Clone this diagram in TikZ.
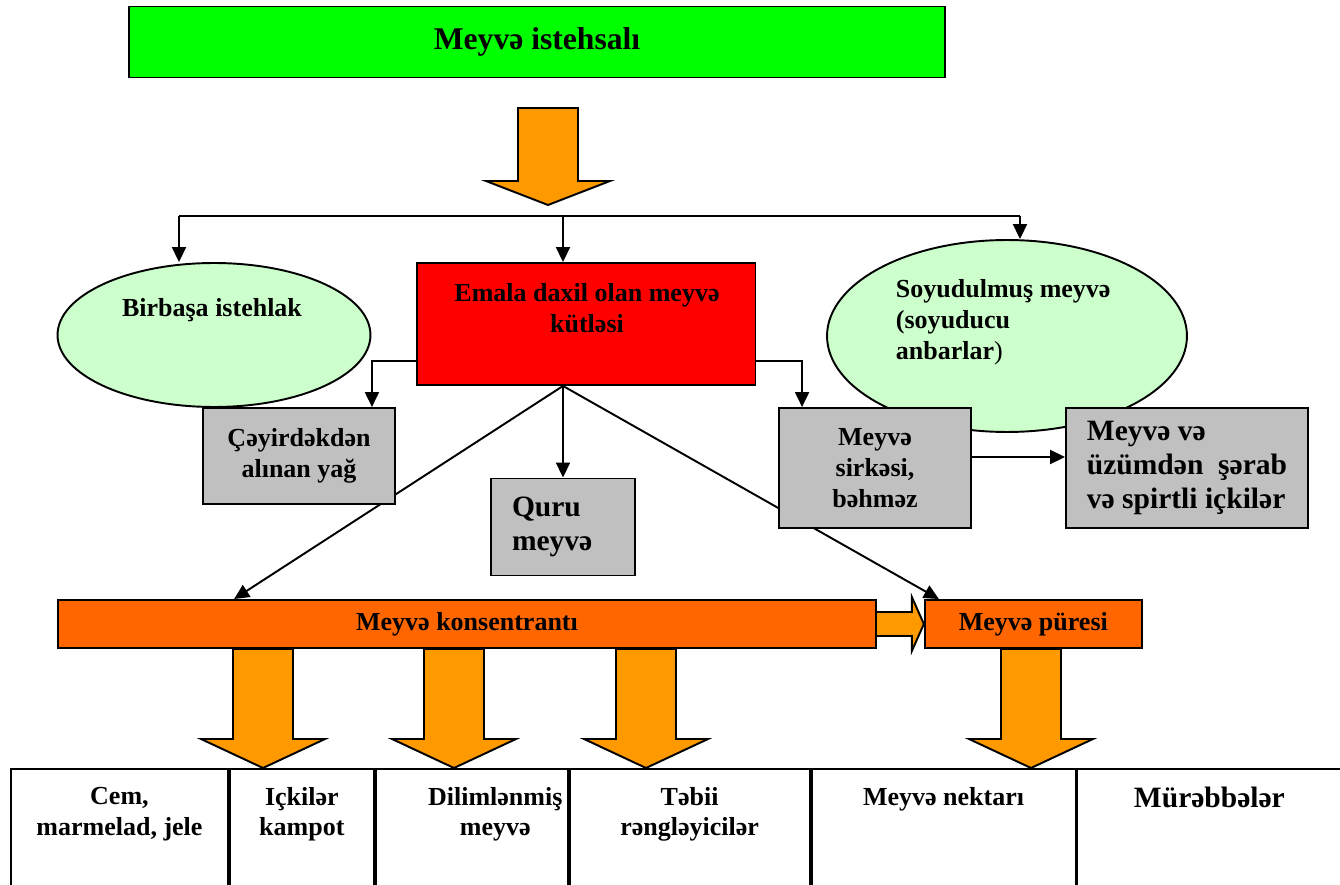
\documentclass[tikz,border=0pt]{standalone}
\usepackage{fontspec}
\setmainfont{Liberation Serif}
\usetikzlibrary{positioning, calc, shapes.geometric, arrows.meta, backgrounds}

\definecolor{titlegreen}{HTML}{00FF00}
\definecolor{palegreen}{HTML}{CCFFCC}
\definecolor{boxgray}{HTML}{C0C0C0}
\definecolor{arroworange}{HTML}{FF9900}
\definecolor{barorange}{HTML}{FF6600}
\definecolor{boxred}{HTML}{FF0000}

\newcommand{\fatarrow}[3]{%
	\draw[fatfill] ($(#1)+(-30,0)$) -- ($(#1)+(30,0)$) -- ($(#2)+(30,-#3)$) -- ($(#2)+(62,-#3)$)
		-- (#2) -- ($(#2)+(-62,-#3)$) -- ($(#2)+(-30,-#3)$) -- cycle;}

\begin{document}
\begin{tikzpicture}[x=0.02cm, y=-0.02cm, line width=1.1pt, >={Triangle[length=3mm,width=2.8mm]},
	txt/.style={font=\fontsize{14.8}{17.6}\selectfont\bfseries, align=center, inner sep=0pt},
	bigtxt/.style={font=\fontsize{16.8}{19.3}\selectfont\bfseries, inner sep=0pt},
	plainbox/.style={draw, rectangle, inner sep=0pt},
	graybox/.style={plainbox, fill=boxgray, txt},
	ovalnode/.style={draw, ellipse, fill=palegreen, inner sep=0pt},
	barbox/.style={plainbox, fill=barorange, txt, minimum height=0.96cm},
	cellbox/.style={plainbox, anchor=north west, minimum height=2.54cm},
	fatfill/.style={draw, fill=arroworange, line join=miter}]
	\useasboundingbox (0,0) rectangle (1340,885);

	\node[plainbox, fill=titlegreen, minimum width=16.32cm, minimum height=1.42cm, font=\fontsize{18}{21}\selectfont\bfseries] (g) at (537,42) {Meyvə istehsalı};

	\node[ovalnode, minimum width=6.26cm, minimum height=2.88cm] (e1) at (214,335) {};
	\node[ovalnode, minimum width=7.2cm, minimum height=3.84cm] (e2) at (1007,336) {};
	\node[txt] (e1t) at (212,310) {Birbaşa istehlak};
	\node[txt, align=left, anchor=west] (e2t) at (895,322) {Soyudulmuş meyvə\\(soyuducu\\anbarlar\textmd{)}};

	\node[plainbox, fill=boxred, minimum width=6.78cm, minimum height=2.44cm] (r) at (586,324) {};
	\node[txt] (rt) at (587,308) {Emala daxil olan meyvə\\kütləsi};

	\node[graybox, minimum width=3.84cm, minimum height=1.92cm] (c) at (299,456) {Çəyirdəkdən\\alınan yağ};
	\node[graybox, bigtxt, align=left, text width=2.04cm, inner xsep=0.42cm, minimum height=1.94cm] (q) at (563,527) {Quru\\meyvə};
	\node[graybox, minimum width=3.84cm, minimum height=2.4cm] (s) at (875,468) {Meyvə\\sirkəsi,\\bəhməz};
	\node[graybox, bigtxt, align=left, minimum width=4.84cm, minimum height=2.4cm] (w) at (1187,468) {Meyvə və\\üzümdən\ \ şərab\\və spirtli içkilər};

	\node[barbox, minimum width=16.36cm] (k) at (467,624) {Meyvə konsentrantı};
	\node[barbox, minimum width=4.34cm, right=0.94cm of k] (p) {Meyvə püresi};

	\node[cellbox, minimum width=4.34cm] (x1) at (10,768) {};
	\node[cellbox, minimum width=2.88cm, right=0pt of x1] (x2) {};
	\node[cellbox, minimum width=3.84cm, right=0pt of x2] (x3) {};
	\node[cellbox, minimum width=4.8cm, right=0pt of x3] (x4) {};
	\node[cellbox, minimum width=5.28cm, right=0pt of x4] (x5) {};
	\node[cellbox, minimum width=5.28cm, right=0pt of x5] (x6) {};

	\node[txt, below=0.36cm of x1.north] (t1) {Cem,\\marmelad, jele};
	\node[txt, below=0.36cm of x2.north] (t2) {Içkilər\\kampot};
	\node[txt, below=0.36cm of x3.north, xshift=0.47cm] (t3) {Dilimlənmiş\\meyvə};
	\node[txt, below=0.36cm of x4.north] (t4) {Təbii\\rəngləyicilər};
	\node[txt, below=0.36cm of x5.north] (t5) {Meyvə nektarı};
	\node[txt, bigtxt, below=0.36cm of x6.north] (t6) {Mürəbbələr};

	\coordinate (a00) at (548,108);
	\coordinate (a0) at (548,205);
	\coordinate (f1) at (179,216);
	\coordinate (f2) at (1020,216);
	\coordinate (a1) at (263,768);
	\coordinate (a2) at (454,768);
	\coordinate (a3) at (646,768);
	\coordinate (a4) at (1031,768);

	\begin{pgfonlayer}{background}
	\begin{scope}[line width=1.1pt]
		\fatarrow{a00}{a0}{24}
		\fatarrow{k.south -| a1}{a1}{29}
		\fatarrow{k.south -| a2}{a2}{29}
		\fatarrow{k.south -| a3}{a3}{29}
		\fatarrow{p.south -| a4}{a4}{29}
		\draw[fatfill] ($(k.east)+(0,-12)$) -- ($(p.west)+(-12,-12)$) -- ($(p.west)+(-12,-27)$) -- (p.west)
			-- ($(p.west)+(-12,27)$) -- ($(p.west)+(-12,12)$) -- ($(k.east)+(0,12)$);

		\draw (f1) -- (f2);
		\path[->] (f1) edge (f1 |- e1.north);
		\path[->] (q.north |- f1) edge (q.north |- r.north);
		\path[->] (f2) edge (f2 |- e2.north);
		\draw[->] ($(r.south west)+(0,-25)$) -| ($(c.north east)+(-24,0)$);
		\draw[->] ($(r.south east)+(0,-25)$) -| ($(s.north west)+(24,0)$);
		\path[->] (q.north |- r.south) edge (q.north);
		\path[->] (q.north |- r.south) edge ($(k.north west)+(177,0)$);
		\path[->] (q.north |- r.south) edge ($(p.north west)+(15,0)$);
		\path[->] ($(s.east)+(0,-11)$) edge ($(w.west)+(0,-11)$);
	\end{scope}
	\end{pgfonlayer}
\end{tikzpicture}
\end{document}
